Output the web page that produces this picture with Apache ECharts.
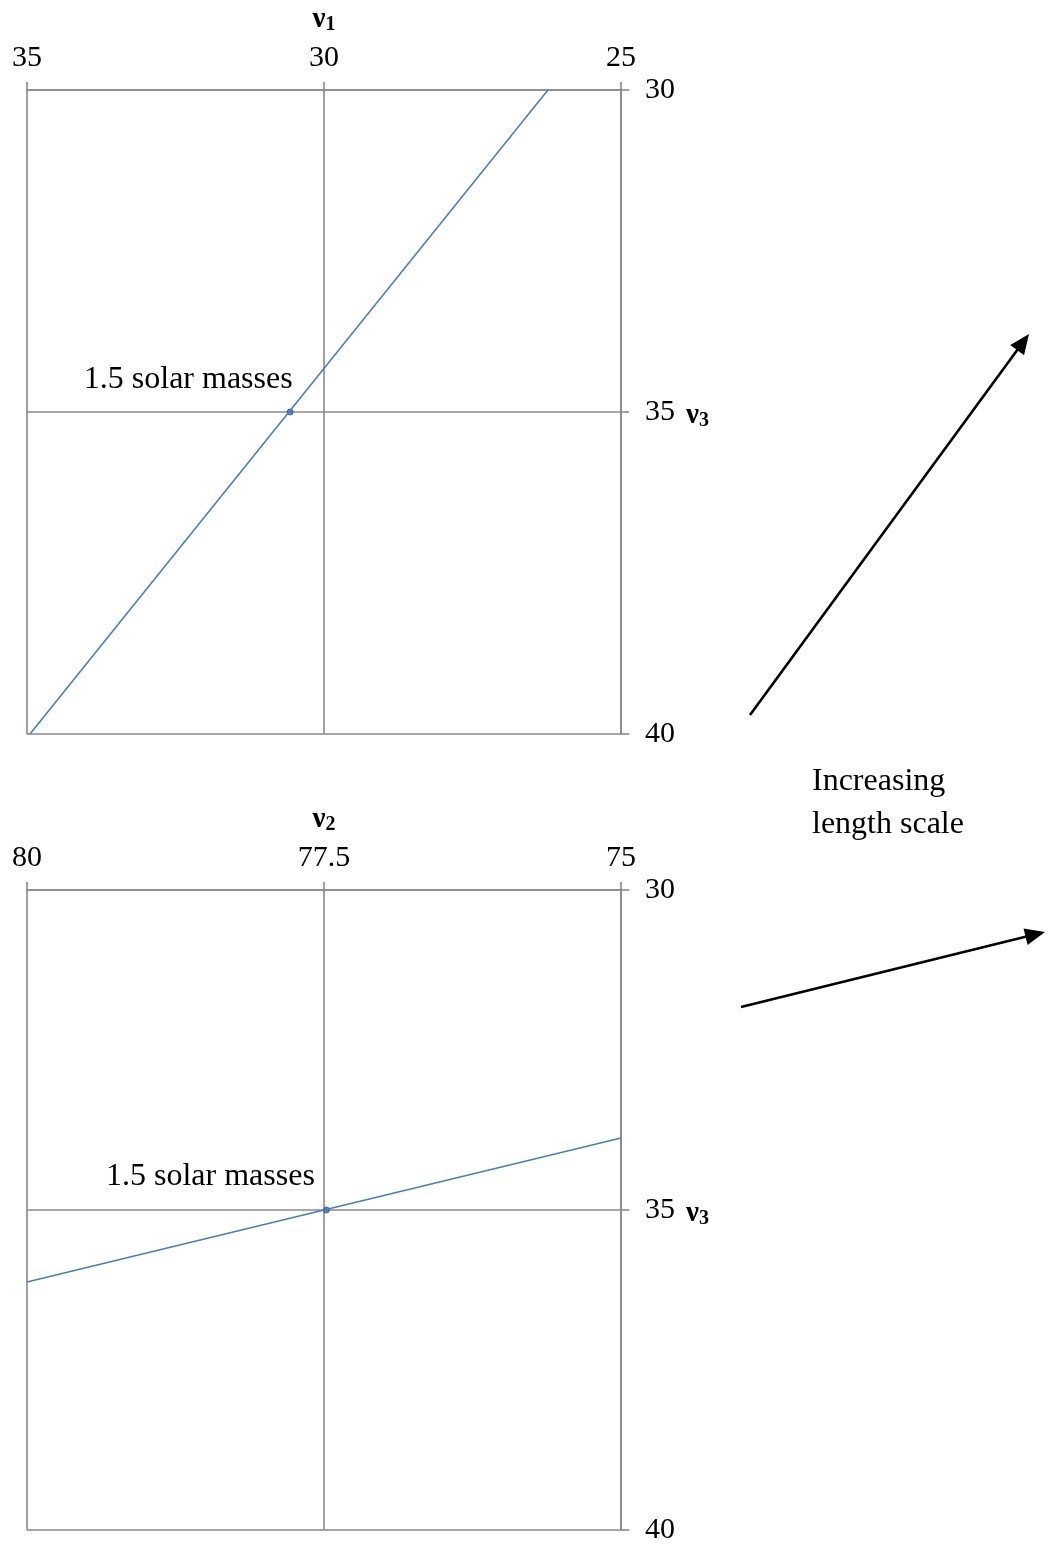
<!DOCTYPE html>
<html><head><meta charset="utf-8">
<script src="https://cdn.jsdelivr.net/npm/echarts/dist/echarts.min.js"></script>
<style>html,body{margin:0;padding:0;background:#fff}#c{width:1059px;height:1546px}</style>
</head><body><div id="c"></div>
<script>
// ---- data ----
const xTicksTop = [35, 30, 25];
const xTicksBottom = [80, 77.5, 75];
const yTicks = [30, 35, 40];
const lineTop = [[34.95, 40], [26.23, 30]];
const pointTop = [[30.57, 35]];
const lineBottom = [[80, 36.125], [75, 33.875]];
const pointBottom = [[77.48, 35]];
const pointLabel = '1.5 solar masses';
const xNameSubs = ['1', '2'];
const yNameSub = '3';
const annotationLines = ['Increasing', 'length scale'];

// ---- style ----
const F = "'Liberation Serif','Times New Roman',serif";
const GRAY = '#8a8a8a';
const BLUE = '#4a7ebb';
const FS = 30;
const LFS = 32;

const rich = {
  n: { fontFamily: F, fontSize: 29, fontWeight: 'bold', color: '#000', lineHeight: 30, verticalAlign: 'top' },
  s: { fontFamily: F, fontSize: 20, fontWeight: 'bold', color: '#000', lineHeight: 20, verticalAlign: 'bottom', padding: [14, 0, 0, 0] }
};

function ext(t) { return { min: Math.min(...t), max: Math.max(...t), interval: Math.abs(t[1] - t[0]) }; }
const ls = { color: GRAY, width: 1.6 };

function xAxis(gi, ticks, sub) {
  const e = ext(ticks);
  return Object.assign({
    type: 'value', gridIndex: gi, position: 'top', inverse: true,
    axisLine: { show: true, onZero: false, lineStyle: ls },
    axisTick: { show: true, inside: false, length: 8, lineStyle: ls },
    splitLine: { show: true, lineStyle: ls },
    axisLabel: { color: '#000', fontFamily: F, fontSize: FS, margin: 17 },
    name: '{n|ν}{s|' + sub + '}', nameLocation: 'middle', nameGap: 55,
    nameTextStyle: { rich: rich }
  }, e);
}
function yAxis(gi, ticks, sub) {
  const e = ext(ticks);
  return Object.assign({
    type: 'value', gridIndex: gi, position: 'right', inverse: true,
    axisLine: { show: true, onZero: false, lineStyle: ls },
    axisTick: { show: true, inside: false, length: 8, lineStyle: ls },
    splitLine: { show: true, lineStyle: ls },
    axisLabel: { color: '#000', fontFamily: F, fontSize: FS, margin: 24 },
    name: '{n|ν}{s|' + sub + '}', nameLocation: 'middle', nameGap: 65, nameRotate: 0,
    nameTextStyle: { rich: rich, align: 'left', padding: [8, 0, 0, 0] }
  }, e);
}

function lineSeries(gi, data) {
  return { type: 'line', xAxisIndex: gi, yAxisIndex: gi, data: data, symbol: 'none',
    lineStyle: { color: BLUE, width: 1.6 }, silent: true, animation: false };
}
function pointSeries(gi, data, off) {
  return { type: 'scatter', xAxisIndex: gi, yAxisIndex: gi, data: data, symbol: 'circle', symbolSize: 6,
    itemStyle: { color: '#3b6aa8', borderColor: '#2a4f80', borderWidth: 1 },
    label: { show: true, formatter: pointLabel, position: 'left', distance: 0, offset: off,
      color: '#000', opacity: 1, fontFamily: F, fontSize: LFS }, animation: false };
}

function arrow(x1, y1, x2, y2) {
  const dx = x2 - x1, dy = y2 - y1, L = Math.hypot(dx, dy);
  const ux = dx / L, uy = dy / L, px = -uy, py = ux;
  const hl = 20, hw = 8.5;
  const bx = x2 - ux * hl, by = y2 - uy * hl;
  return [
    { type: 'line', shape: { x1: x1, y1: y1, x2: bx + ux * 2, y2: by + uy * 2 }, style: { stroke: '#000', lineWidth: 2.6 } },
    { type: 'polygon', shape: { points: [[x2, y2], [bx + px * hw, by + py * hw], [bx - px * hw, by - py * hw]] }, style: { fill: '#000' } }
  ];
}

const chart = echarts.init(document.getElementById('c'), null, { renderer: 'canvas' });
chart.setOption({
  backgroundColor: '#fff',
  animation: false,
  grid: [
    { left: 27, top: 90, width: 594, height: 644, containLabel: false, outerBoundsMode: 'none' },
    { left: 27, top: 890, width: 594, height: 640, containLabel: false, outerBoundsMode: 'none' }
  ],
  xAxis: [xAxis(0, xTicksTop, xNameSubs[0]), xAxis(1, xTicksBottom, xNameSubs[1])],
  yAxis: [yAxis(0, yTicks, yNameSub), yAxis(1, yTicks, yNameSub)],
  series: [
    lineSeries(0, lineTop), pointSeries(0, pointTop, [6, -32]),
    lineSeries(1, lineBottom), pointSeries(1, pointBottom, [-8, -33])
  ],
  graphic: [].concat(
    arrow(750, 715, 1029, 334),
    arrow(741, 1007, 1045, 932),
    [{ type: 'text', left: 812, top: 760, style: { text: annotationLines.join('\n'), font: LFS + 'px ' + F, fill: '#000', lineHeight: 43 } }]
  )
});
</script></body></html>
